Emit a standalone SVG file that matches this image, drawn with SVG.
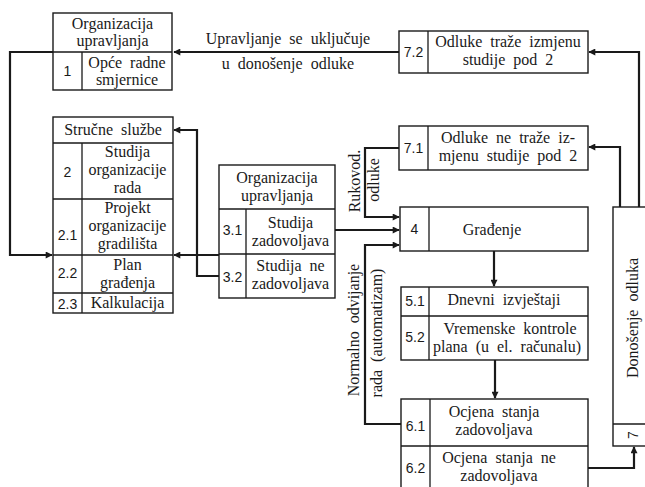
<svg xmlns="http://www.w3.org/2000/svg" width="645" height="487" viewBox="0 0 645 487">
  <style>
    .box { fill: none; stroke: #1a1a1a; stroke-width: 1.4; }
    .div { stroke: #1a1a1a; stroke-width: 1.3; fill: none; }
    .t { font-family: "Liberation Serif", "Times New Roman", "DejaVu Serif", serif; font-size: 16px; fill: #1a1a1a; text-anchor: middle; word-spacing: 4px; }
    .n { font-family: "Liberation Sans", Arial, "DejaVu Sans", sans-serif; font-size: 14px; fill: #1a1a1a; text-anchor: middle; }
    .c { fill: none; stroke: #1a1a1a; stroke-width: 2.2; stroke-linejoin: miter; }
  </style>
  <defs>
    <marker id="arr" viewBox="0 0 10 10" refX="9" refY="5" markerWidth="8" markerHeight="7" markerUnits="userSpaceOnUse" orient="auto">
      <path d="M0,0 L10,5 L0,10 z" fill="#1a1a1a"/>
    </marker>
  </defs>
  <rect width="645" height="487" fill="#ffffff"/>

  <!-- connectors -->
  <g id="connectors">
    <path class="c" d="M399,52 H174" marker-end="url(#arr)"/>
    <path class="c" d="M53,52 H10 V255 H52" marker-end="url(#arr)"/>
    <path class="c" d="M335,230 H399" marker-end="url(#arr)"/>
    <path class="c" d="M399,148 H365 V217 H399" marker-end="url(#arr)"/>
    <path class="c" d="M401,424 H365 V245 H399" marker-end="url(#arr)"/>
    <path class="c" d="M494,251 V286" marker-end="url(#arr)"/>
    <path class="c" d="M495,360 V398" marker-end="url(#arr)"/>
    <path class="c" d="M588,468 H634 V447" marker-end="url(#arr)"/>
    <path class="c" d="M639,207 V52 H589" marker-end="url(#arr)"/>
    <path class="c" d="M620,207 V147 H589" marker-end="url(#arr)"/>
    <path class="c" d="M219,276 H197 V130 H174" marker-end="url(#arr)"/>
    <path class="c" d="M219,255 H174" marker-end="url(#arr)"/>
    <text class="t" x="288" y="44">Upravljanje se uključuje</text>
    <text class="t" x="288" y="69">u donošenje odluke</text>
    <text class="t" transform="translate(360,181) rotate(-90)">Rukovod.</text>
    <text class="t" transform="translate(379,180) rotate(-90)">odluke</text>
    <text class="t" transform="translate(359,330) rotate(-90)">Normalno odvijanje</text>
    <text class="t" transform="translate(382,333) rotate(-90)">rada (automatizam)</text>
  </g>

  <!-- 1: Organizacija upravljanja -->
  <g id="node1">
    <rect class="box" x="53" y="13" width="119" height="77"/>
    <path class="div" d="M53,52 H172 M82,52 V90"/>
    <text class="t" x="112.5" y="29">Organizacija</text>
    <text class="t" x="112.5" y="46">upravljanja</text>
    <text class="n" x="67.5" y="76">1</text>
    <text class="t" x="127" y="68">Opće radne</text>
    <text class="t" x="127" y="85">smjernice</text>
  </g>

  <!-- 2: Stručne službe -->
  <g id="node2">
    <rect class="box" x="53" y="117" width="120" height="196"/>
    <path class="div" d="M53,143 H173 M53,199 H173 M53,255 H173 M53,293 H173 M82,143 V313"/>
    <text class="t" x="113" y="135">Stručne službe</text>
    <text class="n" x="67.5" y="177">2</text>
    <text class="t" x="127.5" y="157">Studija</text>
    <text class="t" x="127.5" y="175">organizacije</text>
    <text class="t" x="127.5" y="193">rada</text>
    <text class="n" x="67.5" y="240">2.1</text>
    <text class="t" x="127.5" y="213">Projekt</text>
    <text class="t" x="127.5" y="231">organizacije</text>
    <text class="t" x="127.5" y="249">gradilišta</text>
    <text class="n" x="67.5" y="278">2.2</text>
    <text class="t" x="127.5" y="270">Plan</text>
    <text class="t" x="127.5" y="288">građenja</text>
    <text class="n" x="67.5" y="309">2.3</text>
    <text class="t" x="127.5" y="308">Kalkulacija</text>
  </g>

  <!-- 3: Organizacija upravljanja (studija) -->
  <g id="node3">
    <rect class="box" x="219" y="165" width="116" height="133"/>
    <path class="div" d="M219,209 H335 M219,254 H335 M246,209 V298"/>
    <text class="t" x="277" y="183">Organizacija</text>
    <text class="t" x="277" y="201">upravljanja</text>
    <text class="n" x="232.5" y="235">3.1</text>
    <text class="t" x="290.5" y="228">Studija</text>
    <text class="t" x="290.5" y="246">zadovoljava</text>
    <text class="n" x="232.5" y="282">3.2</text>
    <text class="t" x="290.5" y="271">Studija ne</text>
    <text class="t" x="290.5" y="289">zadovoljava</text>
  </g>

  <!-- 7.2 -->
  <g id="node72">
    <rect class="box" x="399" y="31" width="189" height="42"/>
    <path class="div" d="M428,31 V73"/>
    <text class="n" x="413.5" y="57">7.2</text>
    <text class="t" x="508" y="47">Odluke traže izmjenu</text>
    <text class="t" x="508" y="65">studije pod 2</text>
  </g>

  <!-- 7.1 -->
  <g id="node71">
    <rect class="box" x="399" y="126" width="189" height="44"/>
    <path class="div" d="M428,126 V170"/>
    <text class="n" x="413.5" y="153">7.1</text>
    <text class="t" x="508" y="143">Odluke ne traže iz-</text>
    <text class="t" x="508" y="161">mjenu studije pod 2</text>
  </g>

  <!-- 4: Građenje -->
  <g id="node4">
    <rect class="box" x="400" y="207" width="188" height="44"/>
    <path class="div" d="M429,207 V251"/>
    <text class="n" x="414.5" y="234">4</text>
    <text class="t" x="492" y="235">Građenje</text>
  </g>

  <!-- 5: izvještaji i kontrole -->
  <g id="node5">
    <rect class="box" x="401" y="287" width="187" height="73"/>
    <path class="div" d="M401,316 H588 M429,287 V360"/>
    <text class="n" x="415" y="306">5.1</text>
    <text class="t" x="504" y="305">Dnevni izvještaji</text>
    <text class="n" x="415" y="342">5.2</text>
    <text class="t" x="510" y="334">Vremenske kontrole</text>
    <text class="t" x="507" y="352">plana (u el. računalu)</text>
  </g>

  <!-- 6: Ocjena stanja -->
  <g id="node6">
    <rect class="box" x="401" y="399" width="187" height="93"/>
    <path class="div" d="M401,446 H588 M430,399 V492"/>
    <text class="n" x="415.5" y="431">6.1</text>
    <text class="t" x="494" y="417">Ocjena stanja</text>
    <text class="t" x="494" y="435">zadovoljava</text>
    <text class="n" x="415.5" y="473">6.2</text>
    <text class="t" x="499" y="463">Ocjena stanja ne</text>
    <text class="t" x="499" y="481">zadovoljava</text>
  </g>

  <!-- 7: Donošenje odluka -->
  <g id="node7">
    <rect class="box" x="613" y="207" width="40" height="239"/>
    <path class="div" d="M613,424 H653"/>
    <text class="t" transform="translate(638,318) rotate(-90)">Donošenje odluka</text>
    <text class="n" transform="translate(638,435) rotate(-90)">7</text>
  </g>
</svg>
